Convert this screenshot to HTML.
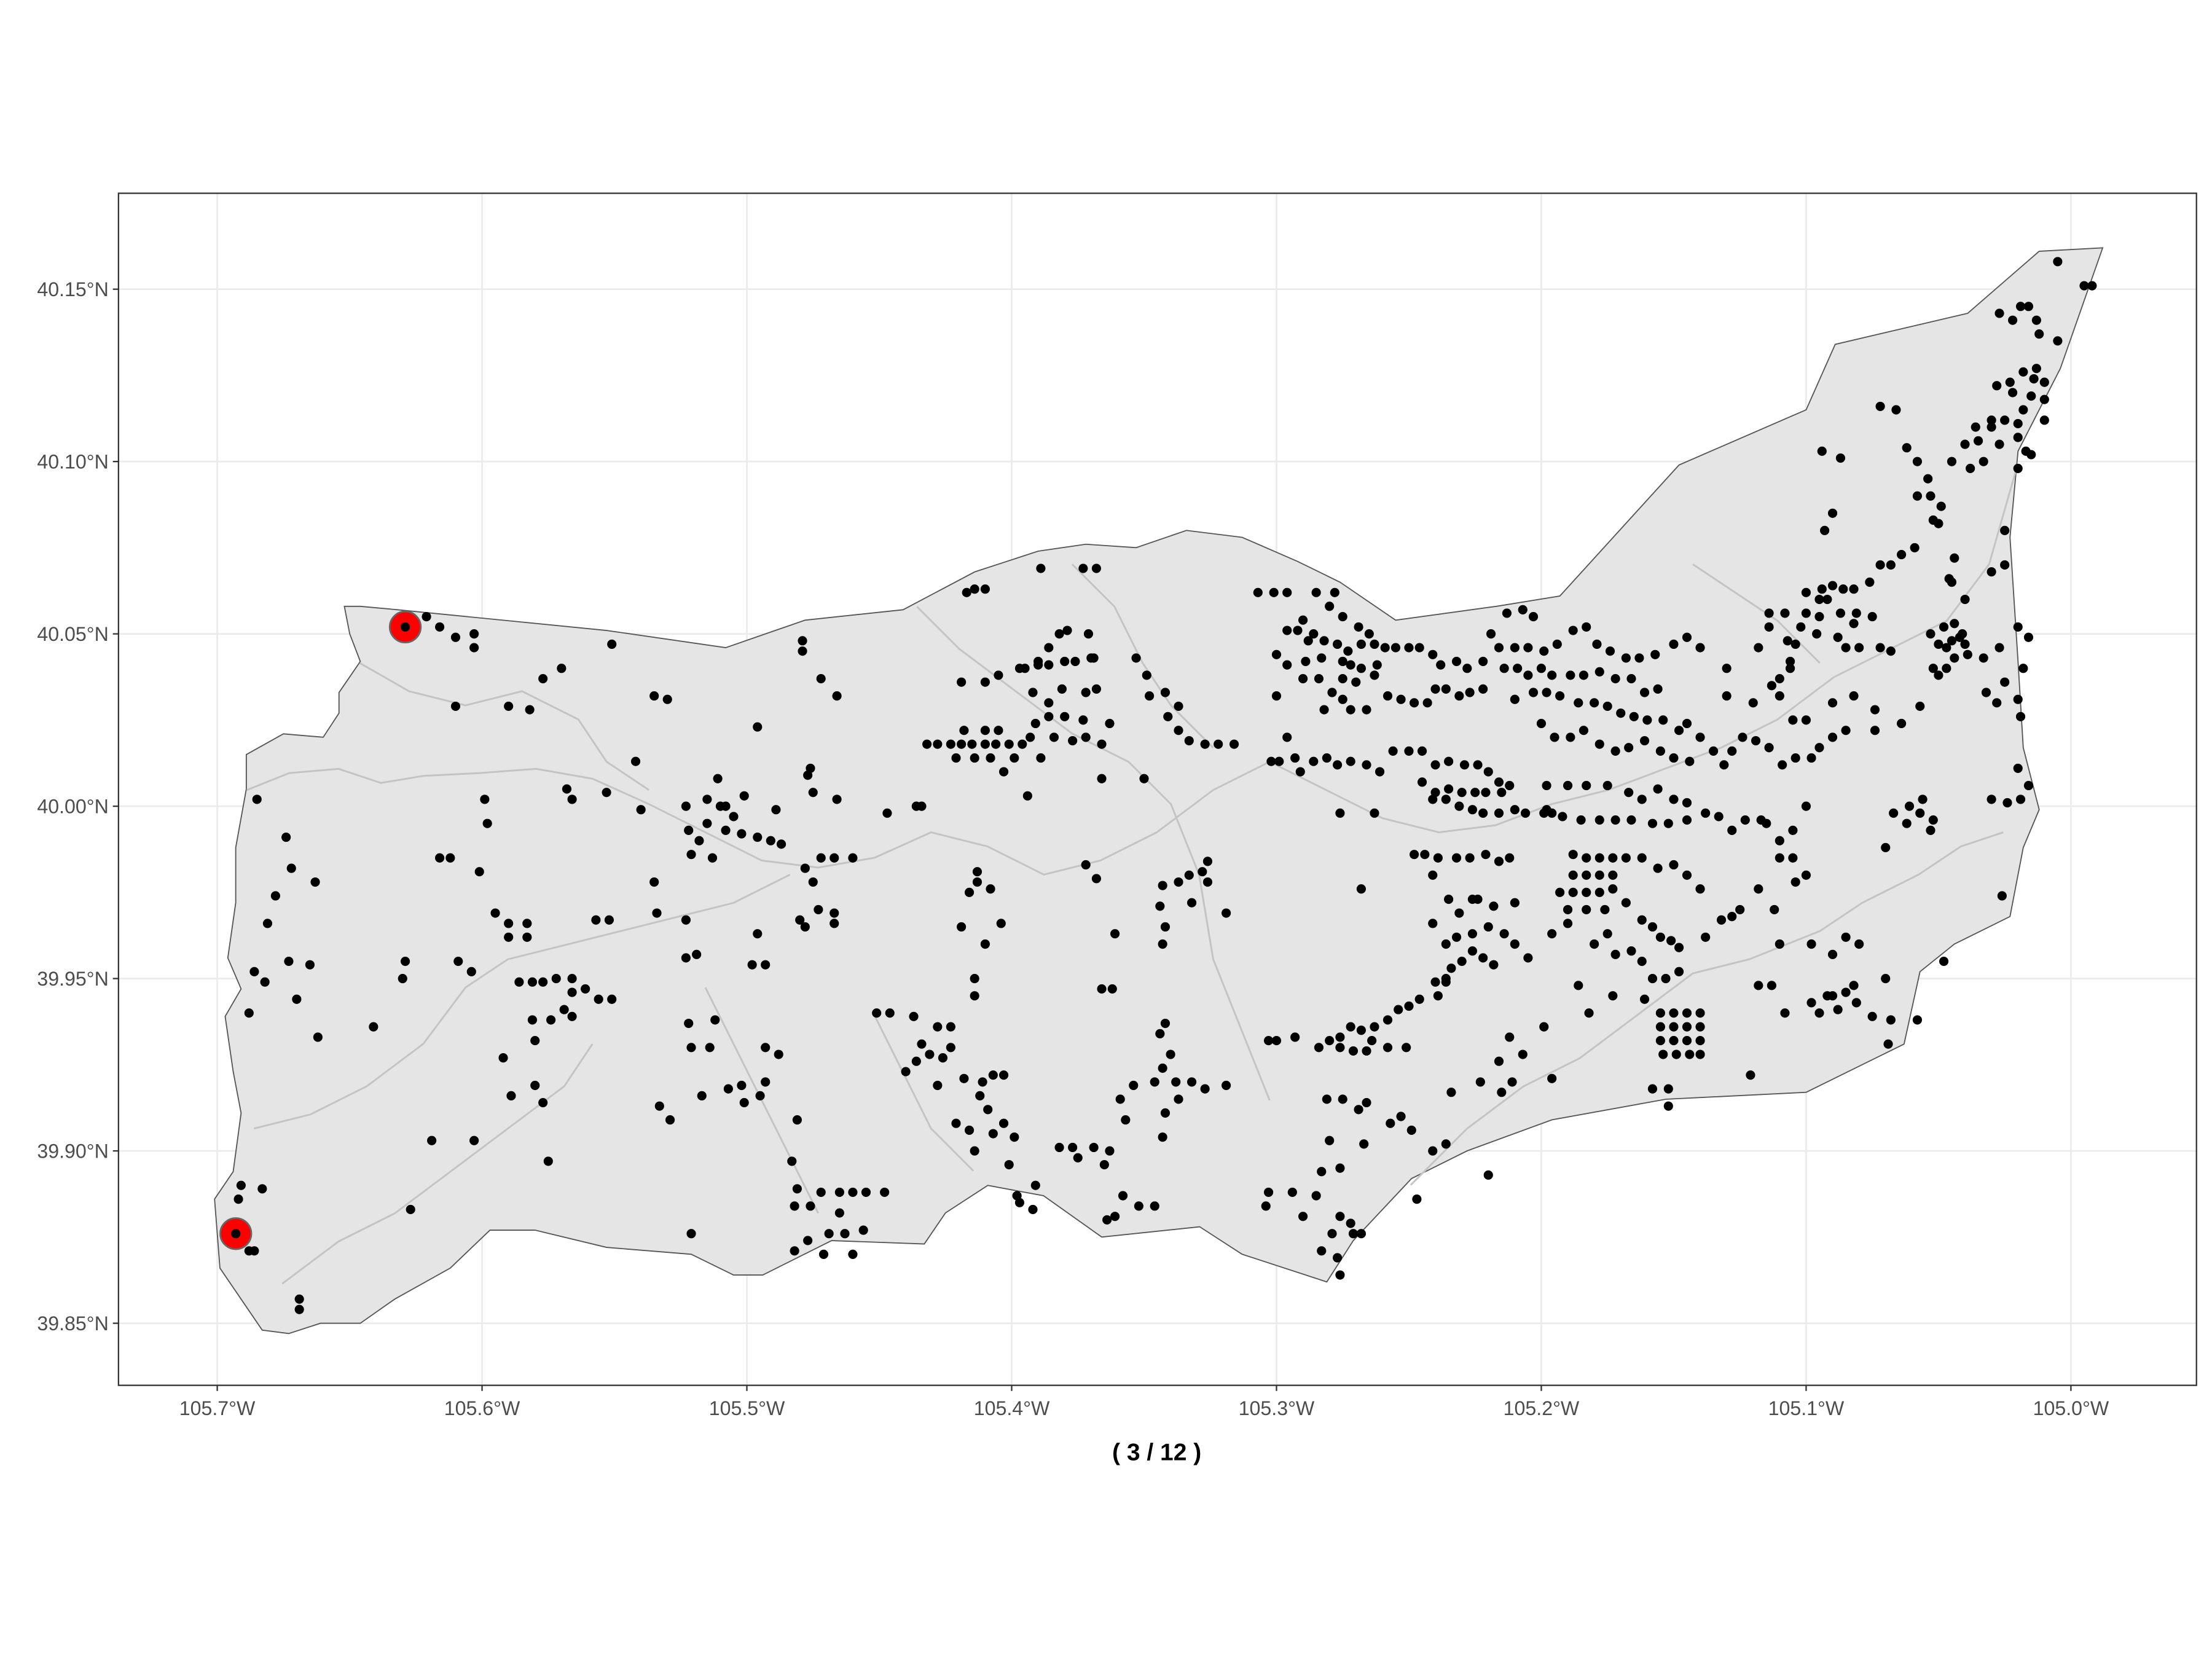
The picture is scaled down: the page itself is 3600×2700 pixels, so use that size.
<!DOCTYPE html>
<html><head><meta charset="utf-8">
<style>
html,body{margin:0;padding:0;background:#fff;}
svg{display:block;font-family:"Liberation Sans",Arial,sans-serif;}
</style></head>
<body>
<svg id="chart" width="3600" height="2700" viewBox="0 0 1568 1176" xmlns="http://www.w3.org/2000/svg">
<rect x="0" y="0" width="1568" height="1176" fill="#fff"/>
<g id="grid"></g>
<g id="shape"></g>
<g id="streams" fill="none" stroke="#c4c4c4" stroke-width="1.3">
<path d="M175,560 L205,548 L240,545 L270,555 L300,550 L340,548 L380,545 L420,552 L460,570 L500,590 L540,610 L580,615 L620,608 L660,590 L700,600 L740,620 L780,610 L820,590 L860,560 L900,540 L940,560 L980,580 L1020,590 L1060,585 L1100,570 L1140,560 L1180,545 L1220,530 L1260,510 L1300,480 L1340,460 L1380,440 L1410,400 L1430,330"/>
<path d="M255,470 L290,490 L330,500 L370,490 L410,510 L430,540 L460,560"/>
<path d="M180,800 L220,790 L260,770 L300,740 L330,700 L360,680 L400,670 L440,660 L480,650 L520,640 L560,620"/>
<path d="M200,910 L240,880 L280,860 L320,830 L360,800 L400,770 L420,740"/>
<path d="M650,430 L680,460 L720,490 L760,520 L800,540 L830,570 L850,620 L860,680 L880,730 L900,780"/>
<path d="M760,400 L790,430 L810,470 L830,500 L860,530"/>
<path d="M1000,840 L1040,800 L1080,770 L1120,750 L1160,720 L1200,690 L1240,680 L1290,660 L1320,640 L1360,620 L1390,600 L1420,590"/>
<path d="M1200,400 L1230,420 L1260,440 L1290,470"/>
<path d="M500,700 L520,740 L540,780 L560,820 L580,860"/>
<path d="M620,720 L640,760 L660,800 L690,830"/>
</g>
<g id="points"></g>
<rect x="84" y="137" width="1473" height="845" fill="none" stroke="#333" stroke-width="1"/>
<g id="axes" font-size="14" fill="#4d4d4d"></g>
<text x="820" y="1035" text-anchor="middle" font-size="17" font-weight="bold" fill="#000">( 3 / 12 )</text>
</svg>
<script>
const xTicks=[105.7,105.6,105.5,105.4,105.3,105.2,105.1,105.0];
const xTickLabels=["105.7°W","105.6°W","105.5°W","105.4°W","105.3°W","105.2°W","105.1°W","105.0°W"];
const yTicks=[40.15,40.10,40.05,40.00,39.95,39.90,39.85];
const yTickLabels=["40.15°N","40.10°N","40.05°N","40.00°N","39.95°N","39.90°N","39.85°N"];
const boundary=[[105.652,40.058],[105.646,40.058],[105.632,40.057],[105.553,40.051],[105.508,40.046],[105.478,40.054],[105.441,40.057],[105.414,40.068],[105.390,40.074],[105.372,40.076],[105.353,40.075],[105.334,40.080],[105.313,40.078],[105.292,40.071],[105.276,40.065],[105.255,40.054],[105.217,40.058],[105.193,40.061],[105.148,40.099],[105.100,40.115],[105.089,40.134],[105.039,40.143],[105.012,40.161],[104.988,40.162],[105.004,40.127],[105.020,40.103],[105.023,40.078],[105.020,40.042],[105.018,40.017],[105.012,39.999],[105.018,39.988],[105.023,39.968],[105.044,39.960],[105.057,39.952],[105.063,39.931],[105.100,39.917],[105.153,39.915],[105.196,39.909],[105.228,39.900],[105.249,39.892],[105.271,39.874],[105.281,39.862],[105.313,39.870],[105.329,39.878],[105.366,39.875],[105.388,39.887],[105.409,39.890],[105.425,39.882],[105.433,39.873],[105.468,39.874],[105.494,39.864],[105.505,39.864],[105.521,39.870],[105.553,39.872],[105.580,39.877],[105.597,39.877],[105.612,39.866],[105.633,39.857],[105.646,39.850],[105.661,39.850],[105.673,39.847],[105.683,39.848],[105.691,39.857],[105.699,39.866],[105.701,39.886],[105.694,39.894],[105.691,39.911],[105.694,39.923],[105.697,39.939],[105.691,39.947],[105.696,39.956],[105.693,39.972],[105.693,39.988],[105.689,40.005],[105.689,40.015],[105.675,40.021],[105.660,40.020],[105.654,40.027],[105.654,40.033],[105.646,40.042],[105.650,40.050]];
const highlightLon=[105.629,105.693];
const highlightLat=[40.052,39.876];
const westPts=[[105.691,39.890],[105.692,39.886],[105.683,39.889],[105.686,39.871],[105.688,39.871],[105.669,39.857],[105.669,39.854],[105.685,40.002],[105.674,39.991],[105.672,39.982],[105.663,39.978],[105.678,39.974],[105.681,39.966],[105.686,39.952],[105.682,39.949],[105.673,39.955],[105.665,39.954],[105.670,39.944],[105.688,39.940],[105.662,39.933],[105.641,39.936],[105.621,40.055],[105.616,40.052],[105.610,40.049],[105.603,40.050],[105.603,40.046],[105.610,40.029],[105.590,40.029],[105.582,40.028],[105.577,40.037],[105.570,40.040],[105.551,40.047],[105.612,39.985],[105.616,39.985],[105.601,39.981],[105.629,39.955],[105.630,39.950],[105.609,39.955],[105.604,39.952],[105.599,40.002],[105.598,39.995],[105.595,39.969],[105.590,39.966],[105.583,39.966],[105.590,39.962],[105.583,39.962],[105.586,39.949],[105.581,39.949],[105.577,39.949],[105.572,39.950],[105.566,39.950],[105.561,39.947],[105.556,39.944],[105.551,39.944],[105.566,39.946],[105.592,39.927],[105.589,39.916],[105.581,39.938],[105.574,39.938],[105.580,39.932],[105.580,39.919],[105.577,39.914],[105.569,39.941],[105.566,39.939],[105.575,39.897],[105.619,39.903],[105.603,39.903],[105.627,39.883],[105.568,40.005],[105.566,40.002],[105.557,39.967],[105.552,39.967],[105.553,40.004],[105.542,40.013],[105.540,39.999]];
const midWestPts=[[105.535,40.032],[105.530,40.031],[105.535,39.978],[105.534,39.969],[105.523,39.967],[105.523,39.956],[105.519,39.957],[105.522,39.937],[105.533,39.913],[105.529,39.909],[105.521,39.930],[105.514,39.930],[105.512,39.938],[105.517,39.916],[105.507,39.918],[105.502,39.919],[105.501,39.914],[105.495,39.916],[105.493,39.920],[105.488,39.928],[105.493,39.930],[105.481,39.909],[105.483,39.897],[105.481,39.889],[105.482,39.884],[105.476,39.884],[105.482,39.871],[105.477,39.874],[105.471,39.870],[105.469,39.876],[105.465,39.882],[105.472,39.888],[105.465,39.888],[105.460,39.888],[105.455,39.888],[105.448,39.888],[105.463,39.876],[105.456,39.877],[105.460,39.870],[105.521,39.876],[105.523,40.000],[105.515,40.002],[105.510,40.000],[105.515,39.995],[105.508,39.993],[105.502,39.992],[105.496,39.991],[105.491,39.990],[105.487,39.989],[105.511,40.008],[105.508,40.000],[105.522,39.993],[105.518,39.990],[105.521,39.986],[105.513,39.985],[105.505,39.997],[105.501,40.003],[105.489,39.999],[105.478,39.982],[105.475,39.978],[105.472,39.985],[105.467,39.985],[105.460,39.985],[105.473,39.970],[105.478,39.965],[105.467,39.969],[105.467,39.966],[105.480,39.967],[105.477,40.009],[105.476,40.011],[105.475,40.004],[105.466,40.002],[105.496,40.023],[105.472,40.037],[105.466,40.032],[105.479,40.048],[105.479,40.045],[105.498,39.954],[105.493,39.954],[105.496,39.963],[105.447,39.998],[105.451,39.940],[105.446,39.940],[105.440,39.923],[105.437,39.939],[105.434,39.931],[105.431,39.928],[105.426,39.927],[105.423,39.930],[105.436,39.926],[105.428,39.936],[105.428,39.919],[105.418,39.921],[105.411,39.920],[105.412,39.916],[105.407,39.922],[105.403,39.922],[105.409,39.912],[105.403,39.908],[105.407,39.905],[105.399,39.904],[105.401,39.896],[105.398,39.887],[105.391,39.890],[105.392,39.883],[105.397,39.885],[105.414,39.900],[105.416,39.906],[105.421,39.908],[105.414,39.950],[105.414,39.945],[105.423,39.936],[105.410,39.960],[105.404,39.966],[105.419,39.965],[105.416,39.975],[105.413,39.978],[105.413,39.981],[105.408,39.976],[105.434,40.000],[105.436,40.000],[105.432,40.018],[105.428,40.018],[105.423,40.018],[105.419,40.018],[105.415,40.018],[105.410,40.018],[105.406,40.018],[105.401,40.018],[105.396,40.018],[105.418,40.022],[105.410,40.022],[105.405,40.022],[105.421,40.014],[105.414,40.014],[105.408,40.014],[105.399,40.014],[105.403,40.010],[105.393,40.020],[105.389,40.014],[105.391,40.024],[105.417,40.062],[105.414,40.063],[105.410,40.063],[105.419,40.036],[105.410,40.036],[105.405,40.038],[105.397,40.040],[105.395,40.040],[105.390,40.042],[105.386,40.041],[105.380,40.042],[105.376,40.042],[105.370,40.043],[105.386,40.046],[105.382,40.050],[105.379,40.051],[105.371,40.050],[105.369,40.043],[105.392,40.033],[105.386,40.030],[105.381,40.034],[105.372,40.033],[105.368,40.034],[105.386,40.026],[105.380,40.026],[105.373,40.025],[105.384,40.020],[105.377,40.019],[105.372,40.020],[105.366,40.018],[105.366,40.008],[105.394,40.003],[105.389,40.069],[105.373,40.069],[105.368,40.069],[105.390,40.041],[105.363,40.024]];
const midPts=[[105.353,40.043],[105.349,40.038],[105.348,40.032],[105.342,40.033],[105.341,40.026],[105.337,40.022],[105.333,40.019],[105.327,40.018],[105.322,40.018],[105.316,40.018],[105.337,40.029],[105.350,40.008],[105.372,39.983],[105.368,39.979],[105.361,39.963],[105.366,39.947],[105.362,39.947],[105.343,39.977],[105.337,39.978],[105.333,39.980],[105.326,39.978],[105.328,39.981],[105.326,39.984],[105.332,39.972],[105.344,39.971],[105.342,39.965],[105.343,39.960],[105.319,39.969],[105.342,39.937],[105.344,39.934],[105.340,39.928],[105.343,39.924],[105.338,39.920],[105.332,39.920],[105.327,39.918],[105.319,39.919],[105.337,39.915],[105.342,39.911],[105.343,39.904],[105.359,39.915],[105.354,39.919],[105.357,39.909],[105.358,39.887],[105.352,39.884],[105.346,39.884],[105.364,39.880],[105.361,39.881],[105.382,39.901],[105.377,39.901],[105.375,39.898],[105.369,39.901],[105.363,39.900],[105.365,39.896],[105.346,39.920],[105.303,39.932],[105.300,39.932],[105.293,39.933],[105.303,39.888],[105.304,39.884],[105.294,39.888],[105.290,39.881],[105.285,39.887],[105.283,39.871],[105.277,39.869],[105.276,39.864],[105.279,39.876],[105.276,39.881],[105.271,39.876],[105.268,39.876],[105.272,39.879],[105.281,39.915],[105.275,39.915],[105.269,39.912],[105.266,39.914],[105.280,39.903],[105.283,39.894],[105.276,39.895],[105.267,39.902],[105.257,39.908],[105.249,39.906],[105.253,39.910],[105.247,39.886],[105.284,39.930],[105.280,39.932],[105.276,39.933],[105.272,39.936],[105.268,39.935],[105.263,39.936],[105.258,39.938],[105.254,39.941],[105.250,39.942],[105.246,39.944],[105.276,39.930],[105.271,39.929],[105.266,39.929],[105.264,39.932],[105.258,39.930],[105.251,39.930],[105.240,39.949],[105.236,39.950],[105.234,39.953],[105.230,39.955],[105.226,39.958],[105.239,39.945],[105.236,39.949]];
const upperMidPts=[[105.307,40.062],[105.301,40.062],[105.296,40.062],[105.290,40.054],[105.285,40.062],[105.278,40.062],[105.275,40.055],[105.280,40.058],[105.286,40.050],[105.282,40.048],[105.277,40.047],[105.273,40.045],[105.269,40.052],[105.265,40.050],[105.268,40.047],[105.263,40.047],[105.259,40.046],[105.255,40.046],[105.250,40.046],[105.246,40.046],[105.241,40.044],[105.238,40.041],[105.232,40.042],[105.228,40.040],[105.222,40.042],[105.296,40.051],[105.292,40.051],[105.288,40.048],[105.300,40.044],[105.296,40.041],[105.289,40.042],[105.283,40.043],[105.275,40.042],[105.272,40.041],[105.268,40.040],[105.262,40.041],[105.263,40.038],[105.270,40.036],[105.275,40.037],[105.284,40.037],[105.290,40.037],[105.279,40.033],[105.275,40.031],[105.282,40.028],[105.272,40.028],[105.266,40.028],[105.258,40.032],[105.253,40.031],[105.248,40.030],[105.243,40.030],[105.240,40.034],[105.236,40.034],[105.231,40.032],[105.227,40.033],[105.222,40.034],[105.300,40.032],[105.296,40.020],[105.293,40.014],[105.299,40.013],[105.302,40.013],[105.291,40.010],[105.286,40.013],[105.281,40.014],[105.277,40.012],[105.272,40.013],[105.266,40.012],[105.261,40.010],[105.256,40.016],[105.250,40.016],[105.245,40.016],[105.240,40.012],[105.235,40.013],[105.229,40.012],[105.224,40.012],[105.220,40.010],[105.216,40.007],[105.212,40.006],[105.245,40.007],[105.240,40.004],[105.235,40.005],[105.230,40.004],[105.225,40.004],[105.221,40.004],[105.215,40.004],[105.241,40.002],[105.236,40.002],[105.231,40.000],[105.226,39.999],[105.222,39.998],[105.216,39.998],[105.210,39.999],[105.206,39.998],[105.199,39.998],[105.196,39.998],[105.276,39.998],[105.263,39.998],[105.268,39.976],[105.248,39.986],[105.244,39.986],[105.239,39.985],[105.232,39.985],[105.227,39.985],[105.221,39.986],[105.216,39.984],[105.212,39.985],[105.241,39.980],[105.235,39.973],[105.231,39.969],[105.226,39.973],[105.241,39.966],[105.236,39.960],[105.232,39.962],[105.226,39.963],[105.220,39.965],[105.214,39.963],[105.210,39.960],[105.222,39.956],[105.218,39.954],[105.205,39.956],[105.224,39.973],[105.218,39.971],[105.210,39.972]];
const eastMidPts=[[105.219,40.050],[105.213,40.056],[105.207,40.057],[105.203,40.055],[105.216,40.046],[105.210,40.046],[105.205,40.046],[105.199,40.045],[105.194,40.047],[105.188,40.051],[105.183,40.052],[105.179,40.047],[105.174,40.045],[105.168,40.043],[105.163,40.043],[105.157,40.044],[105.150,40.047],[105.145,40.049],[105.140,40.046],[105.214,40.040],[105.209,40.040],[105.205,40.038],[105.200,40.040],[105.196,40.038],[105.189,40.038],[105.184,40.038],[105.178,40.039],[105.172,40.037],[105.166,40.037],[105.161,40.033],[105.156,40.034],[105.210,40.031],[105.203,40.033],[105.198,40.033],[105.193,40.032],[105.186,40.030],[105.180,40.030],[105.175,40.029],[105.170,40.027],[105.165,40.026],[105.160,40.025],[105.154,40.025],[105.148,40.022],[105.145,40.024],[105.200,40.024],[105.195,40.020],[105.189,40.020],[105.184,40.022],[105.178,40.018],[105.172,40.016],[105.167,40.017],[105.161,40.019],[105.155,40.016],[105.150,40.014],[105.144,40.013],[105.140,40.020],[105.135,40.016],[105.131,40.012],[105.128,40.016],[105.124,40.020],[105.119,40.019],[105.114,40.017],[105.109,40.012],[105.104,40.014],[105.098,40.014],[105.095,40.017],[105.198,40.006],[105.190,40.006],[105.183,40.006],[105.175,40.006],[105.167,40.004],[105.162,40.002],[105.156,40.005],[105.150,40.002],[105.145,40.001],[105.198,39.999],[105.192,39.997],[105.185,39.996],[105.178,39.996],[105.172,39.996],[105.166,39.996],[105.158,39.995],[105.152,39.995],[105.145,39.996],[105.138,39.998],[105.133,39.997],[105.128,39.993],[105.123,39.996],[105.117,39.996],[105.110,39.990],[105.188,39.986],[105.183,39.985],[105.178,39.985],[105.173,39.985],[105.168,39.985],[105.162,39.985],[105.156,39.982],[105.150,39.983],[105.145,39.980],[105.140,39.976],[105.188,39.980],[105.183,39.980],[105.178,39.980],[105.173,39.980],[105.193,39.975],[105.188,39.975],[105.183,39.975],[105.178,39.975],[105.173,39.976],[105.190,39.970],[105.183,39.970],[105.176,39.970],[105.168,39.972],[105.162,39.967],[105.158,39.965],[105.151,39.961],[105.148,39.959],[105.155,39.962],[105.190,39.966],[105.196,39.963],[105.180,39.960],[105.175,39.963],[105.172,39.957],[105.166,39.958],[105.162,39.955],[105.158,39.950],[105.153,39.950],[105.148,39.952],[105.138,39.962],[105.132,39.967],[105.128,39.968],[105.125,39.970],[105.118,39.976],[105.112,39.970],[105.110,39.985],[105.105,39.985],[105.100,39.980],[105.104,39.978],[105.115,39.995],[105.105,39.993],[105.100,40.000],[105.161,39.944],[105.155,39.940],[105.150,39.940],[105.145,39.940],[105.140,39.940],[105.155,39.936],[105.150,39.936],[105.145,39.936],[105.140,39.936],[105.155,39.932],[105.150,39.932],[105.145,39.932],[105.140,39.932],[105.154,39.928],[105.149,39.928],[105.144,39.928],[105.140,39.928],[105.158,39.918],[105.152,39.918],[105.152,39.913],[105.173,39.945],[105.182,39.940],[105.186,39.948],[105.121,39.922],[105.118,39.948],[105.113,39.948],[105.108,39.940],[105.098,39.943],[105.092,39.945],[105.088,39.941],[105.095,39.940],[105.090,39.945],[105.085,39.946],[105.082,39.948],[105.081,39.943],[105.075,39.939],[105.110,39.960],[105.098,39.960],[105.090,39.957],[105.085,39.962],[105.080,39.960],[105.207,39.928],[105.196,39.921],[105.199,39.936],[105.212,39.933],[105.216,39.926],[105.215,39.917],[105.234,39.917],[105.223,39.920],[105.241,39.900],[105.236,39.902],[105.220,39.893],[105.211,39.920]];
const northEastPts=[[105.090,40.085],[105.093,40.080],[105.072,40.116],[105.066,40.115],[105.094,40.103],[105.087,40.101],[105.062,40.104],[105.058,40.100],[105.054,40.095],[105.058,40.090],[105.053,40.090],[105.049,40.087],[105.052,40.083],[105.059,40.075],[105.064,40.073],[105.068,40.070],[105.072,40.070],[105.076,40.065],[105.082,40.063],[105.086,40.063],[105.090,40.064],[105.081,40.056],[105.075,40.055],[105.082,40.053],[105.087,40.056],[105.092,40.060],[105.094,40.063],[105.095,40.060],[105.095,40.055],[105.088,40.049],[105.085,40.046],[105.080,40.046],[105.072,40.046],[105.068,40.045],[105.100,40.062],[105.102,40.052],[105.104,40.047],[105.106,40.042],[105.110,40.037],[105.113,40.035],[105.118,40.046],[105.114,40.052],[105.114,40.056],[105.108,40.056],[105.100,40.056],[105.096,40.050],[105.107,40.048],[105.130,40.032],[105.120,40.030],[105.110,40.032],[105.105,40.025],[105.100,40.025],[105.090,40.020],[105.085,40.022],[105.082,40.032],[105.090,40.030],[105.074,40.028],[105.064,40.024],[105.057,40.029],[105.052,40.040],[105.047,40.046],[105.042,40.049],[105.044,40.053],[105.041,40.050],[105.048,40.052],[105.045,40.048],[105.050,40.047],[105.053,40.050],[105.040,40.047],[105.039,40.044],[105.044,40.043],[105.047,40.040],[105.050,40.038],[105.040,40.060],[105.045,40.065],[105.050,40.082],[105.045,40.100],[105.040,40.105],[105.035,40.106],[105.030,40.110],[105.025,40.112],[105.020,40.107],[105.017,40.103],[105.033,40.100],[105.038,40.098],[105.036,40.110],[105.030,40.112],[105.027,40.105],[105.023,40.123],[105.018,40.126],[105.014,40.124],[105.010,40.123],[105.013,40.127],[105.015,40.119],[105.010,40.118],[105.010,40.112],[105.018,40.115],[105.022,40.120],[105.028,40.122],[105.027,40.143],[105.022,40.141],[105.019,40.145],[105.016,40.145],[105.013,40.141],[105.012,40.137],[105.005,40.135],[104.992,40.151],[104.995,40.151],[105.005,40.158],[105.020,40.111],[105.015,40.102],[105.020,40.098],[105.025,40.080],[105.025,40.070],[105.030,40.068],[105.044,40.072],[105.046,40.066],[105.033,40.043],[105.027,40.046],[105.020,40.052],[105.016,40.049],[105.018,40.040],[105.025,40.036],[105.020,40.031],[105.019,40.026],[105.032,40.033],[105.028,40.030],[105.030,40.002],[105.024,40.001],[105.019,40.002],[105.016,40.006],[105.020,40.011],[105.026,39.974],[105.070,39.950],[105.068,39.938],[105.069,39.931],[105.058,39.938],[105.048,39.955],[105.052,39.996],[105.057,39.998],[105.053,39.993],[105.062,39.995],[105.067,39.998],[105.061,40.000],[105.056,40.002],[105.074,40.022],[105.070,39.988],[105.106,40.040],[105.130,40.040]];

const NS='http://www.w3.org/2000/svg';
const PX0=154, PX1=1468, PY0=938, PY1=205;
function xScale(lonW){return PX0+(105.7-lonW)/0.7*(PX1-PX0);}
function yScale(lat){return PY0-(lat-39.85)/0.30*(PY0-PY1);}
function mk(tag,attrs,parent){const e=document.createElementNS(NS,tag);for(const k in attrs)e.setAttribute(k,attrs[k]);parent.appendChild(e);return e;}

const grid=document.getElementById('grid');
const axes=document.getElementById('axes');
xTicks.forEach((t,i)=>{
  const x=xScale(t);
  const l=mk('line',{x1:x,x2:x,y1:137,y2:982,stroke:'#ebebeb','stroke-width':1.2},grid);
  
  
  const tk=mk('line',{x1:x,x2:x,y1:982,y2:986,stroke:'#333','stroke-width':1},axes);
  
  
  const tx=mk('text',{x:x,y:1003,'text-anchor':'middle'},axes);
  tx.textContent=xTickLabels[i];
  
  
});
yTicks.forEach((t,i)=>{
  const y=yScale(t);
  const l=mk('line',{x1:84,x2:1557,y1:y,y2:y,stroke:'#ebebeb','stroke-width':1.2},grid);
  
  
  const tk=mk('line',{x1:80,x2:84,y1:y,y2:y,stroke:'#333','stroke-width':1},axes);
  
  
  const tx=mk('text',{x:77,y:y+5,'text-anchor':'end'},axes);
  tx.textContent=yTickLabels[i];
  
  
});

const shape=document.getElementById('shape');
const poly=mk('polygon',{points:boundary.map(p=>xScale(p[0]).toFixed(1)+','+yScale(p[1]).toFixed(1)).join(' '),fill:'#e5e5e5',stroke:'#555','stroke-width':0.8},shape);



const pg=document.getElementById('points');
highlightLon.forEach((lon,i)=>{
  const c=mk('circle',{cx:xScale(lon),cy:yScale(highlightLat[i]),r:11,fill:'#ff0000',stroke:'#666','stroke-width':1.2},pg);
  
  
});
[westPts,midWestPts,midPts,upperMidPts,eastMidPts,northEastPts].forEach(arr=>{
  arr.forEach(p=>{
    const c=mk('circle',{cx:xScale(p[0]),cy:yScale(p[1]),r:3.3,fill:'#000'},pg);
    
    
  });
});
highlightLon.forEach((lon,i)=>{
  const c=mk('circle',{cx:xScale(lon),cy:yScale(highlightLat[i]),r:3.3,fill:'#000'},pg);
  
  
});
</script>
</body></html>
